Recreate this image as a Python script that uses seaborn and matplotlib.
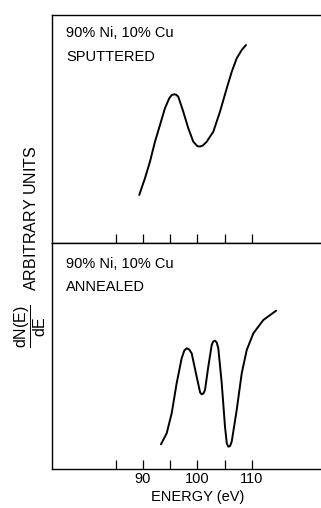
import matplotlib
matplotlib.use("Agg")
import matplotlib.pyplot as plt
import seaborn as sns
import pandas as pd

# ---- data ----
sputtered_energy = [89.32, 90.37, 91.29, 92.21, 93.13, 94.04, 94.83, 95.3, 95.75, 96.1,
                    96.49, 97.41, 98.33, 99.25, 100.0, 100.48, 101.0, 101.71, 102.92,
                    104.15, 105.39, 106.31, 107.22, 108.14, 108.93]
sputtered_signal = [48, 64.7, 81.3, 101.3, 118, 134.7, 144.7, 148, 148.7, 148.3,
                    146.3, 131.3, 114.7, 101.3, 96.8, 96.5, 97.5, 101.3, 111.3,
                    131.3, 154.7, 171.3, 184.7, 193, 198]

annealed_energy = [93.31, 94.36, 95.28, 96.19, 97.11, 97.6, 98.03, 98.5, 98.95, 99.87,
                   100.5, 100.79, 101.1, 101.40, 102.0, 102.63, 102.9, 103.24, 103.55,
                   103.84, 104.47, 105.07, 105.4, 105.68, 106.0, 106.30, 107.22,
                   108.14, 109.06, 110.28, 112.11, 114.45]
annealed_signal = [24.7, 35.7, 55.7, 85.7, 110.7, 118.5, 120.7, 119.5, 115.7, 92.3,
                   76.5, 74.7, 75.5, 79, 102.3, 124, 127.5, 128.3, 126.5,
                   120.7, 85.7, 42.3, 25.5, 22.3, 23, 27.3, 59,
                   95.7, 119, 135.7, 149, 158.3]

tick_positions = [85, 90, 95, 100, 105, 110]
tick_labels = ["", "90", "", "100", "", "110"]

top_title = ["90% Ni, 10% Cu", "SPUTTERED"]
bottom_title = ["90% Ni, 10% Cu", "ANNEALED"]

df_top = pd.DataFrame({"energy": sputtered_energy, "signal": sputtered_signal})
df_bot = pd.DataFrame({"energy": annealed_energy, "signal": annealed_signal})

sns.set_style("white")
plt.rcParams["font.family"] = ["Liberation Sans", "DejaVu Sans"]
plt.rcParams["text.color"] = "black"
plt.rcParams["xtick.color"] = "black"
plt.rcParams["mathtext.fontset"] = "custom"
plt.rcParams["mathtext.rm"] = "Liberation Sans"
plt.rcParams["mathtext.it"] = "Liberation Sans"
plt.rcParams["mathtext.default"] = "rm"

W, H = 321, 508
fig = plt.figure(figsize=(W / 100, H / 100), dpi=100)

def fx(px):
    return px / W

def fy(py):
    return 1 - py / H

left = fx(52)
ax_top = fig.add_axes([left, fy(243), 1 - left, fy(15) - fy(243)])
ax_bot = fig.add_axes([left, fy(469), 1 - left, fy(243) - fy(469)])

xlim = (73.3, 122.7)
for ax, df, ymax in ((ax_top, df_top, 228), (ax_bot, df_bot, 226)):
    sns.lineplot(data=df, x="energy", y="signal", ax=ax, color="black",
                 linewidth=1.4, sort=False, estimator=None)
    ax.set_xlim(*xlim)
    ax.set_ylim(0, ymax)
    ax.set_xlabel("")
    ax.set_ylabel("")
    ax.set_yticks([])
    ax.set_xticks(tick_positions)
    ax.tick_params(axis="x", bottom=True, top=False, direction="in", length=6.5,
                   width=0.9, color="black", labelcolor="black", pad=2.5,
                   labelsize=10.5)
    ax.spines["right"].set_visible(False)
    for s in ("top", "left", "bottom"):
        ax.spines[s].set_color("black")
        ax.spines[s].set_linewidth(1.0)
    ax.set_facecolor("white")

ax_top.set_xticklabels([])
ax_bot.set_xticklabels(tick_labels)

fig.text(fx(66), fy(33), top_title[0], fontsize=10.5, ha="left", va="center")
fig.text(fx(66), fy(57), top_title[1], fontsize=10.5, ha="left", va="center")
fig.text(fx(66), fy(264), bottom_title[0], fontsize=10.5, ha="left", va="center")
fig.text(fx(66), fy(287), bottom_title[1], fontsize=10.5, ha="left", va="center")

fig.text(fx(198), fy(497), "ENERGY (eV)", fontsize=10.5, ha="center", va="center")
fig.text(fx(30), fy(247), r"$\dfrac{dN(E)}{dE}$   ARBITRARY UNITS", fontsize=11.5,
         rotation=90, ha="center", va="center")

fig.savefig("out.png", dpi=100, facecolor="white")
